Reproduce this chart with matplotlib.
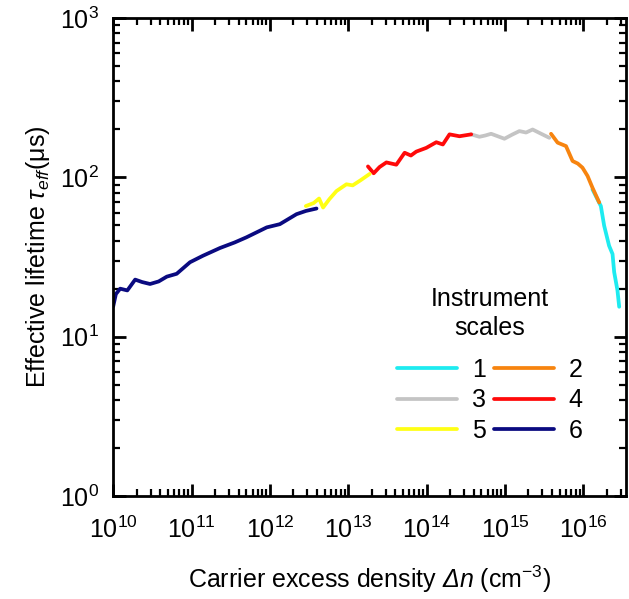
import numpy as np
import matplotlib.pyplot as plt
from matplotlib.ticker import LogLocator, NullFormatter

plt.rcParams['font.family'] = ['Liberation Sans', 'DejaVu Sans']
plt.rcParams['mathtext.fontset'] = 'custom'
plt.rcParams['mathtext.rm'] = 'Liberation Sans'
plt.rcParams['mathtext.it'] = 'Liberation Sans:italic'
plt.rcParams['mathtext.sf'] = 'Liberation Sans:italic'
plt.rcParams['mathtext.default'] = 'regular'

# Dados (log10 de Δn, tau em µs)
log_n6 = [10.0, 10.034, 10.089, 10.18, 10.28, 10.37, 10.47, 10.58, 10.684, 10.81, 10.98,
          11.146, 11.363, 11.55, 11.70, 11.96, 12.127, 12.34, 12.46, 12.595]
tau6 = [15.5, 18.5, 20.0, 19.5, 22.8, 22.0, 21.4, 22.2, 23.8, 24.8, 29.3,
        32.2, 36.0, 39.0, 42.0, 48.5, 50.8, 58.7, 61.5, 63.7]

log_n5 = [12.459, 12.56, 12.628, 12.679, 12.76, 12.85, 12.977, 13.057, 13.16, 13.274]
tau5 = [66.0, 69.0, 73.6, 64.6, 73.0, 82.0, 90.4, 89.0, 96.0, 105.0]

log_n4 = [13.252, 13.325, 13.40, 13.487, 13.614, 13.72, 13.80, 13.869, 13.996, 14.124,
          14.208, 14.293, 14.42, 14.57]
tau4 = [117.0, 106.0, 116.0, 124.0, 120.0, 142.6, 137.0, 145.0, 153.0, 166.0,
        160.7, 186.0, 181.0, 186.0]

log_n3 = [14.57, 14.675, 14.75, 14.824, 14.994, 15.09, 15.185, 15.27, 15.354, 15.44, 15.567]
tau3 = [186.0, 179.6, 183.0, 187.6, 174.6, 185.0, 195.0, 191.0, 199.5, 190.0, 177.0]

log_n2 = [15.589, 15.673, 15.78, 15.864, 15.93, 15.99, 16.055, 16.118, 16.204]
tau2 = [187.5, 165.0, 157.0, 126.5, 122.0, 115.0, 102.0, 86.0, 69.5]

log_n1 = [16.118, 16.225, 16.267, 16.33, 16.374, 16.395, 16.437, 16.459]
tau1 = [84.0, 66.0, 49.7, 37.2, 33.0, 25.4, 19.5, 15.4]

series = [
    ('1', log_n1, tau1, '#1EEBF0'),
    ('2', log_n2, tau2, '#F7840F'),
    ('3', log_n3, tau3, '#C4C4C4'),
    ('4', log_n4, tau4, '#FF0A0A'),
    ('5', log_n5, tau5, '#FFFF14'),
    ('6', log_n6, tau6, '#0A0A80'),
]

fig = plt.figure(figsize=(6.29, 5.99), dpi=100)
ax = fig.add_axes([0.180, 0.172, 0.815, 0.798])

linhas = {}
for nome, lx, ty, cor in series:
    l, = ax.plot(10 ** np.array(lx), ty, color=cor, lw=2.7, label=nome,
                 solid_capstyle='round')
    linhas[nome] = l

ax.set_xscale('log')
ax.set_yscale('log')
ax.set_xlim(1e10, 3.5e16)
ax.set_ylim(1, 1000)

ax.xaxis.set_major_locator(LogLocator(base=10, numticks=20))
ax.xaxis.set_minor_locator(LogLocator(base=10, subs=np.arange(2, 10), numticks=100))
ax.xaxis.set_minor_formatter(NullFormatter())
ax.yaxis.set_minor_formatter(NullFormatter())

ax.tick_params(which='both', direction='in', top=True, right=True, labelsize=18)
ax.tick_params(axis='x', which='major', pad=15)
ax.tick_params(axis='y', which='major', pad=10)
ax.tick_params(which='major', length=9, width=2)
ax.tick_params(which='minor', length=5, width=1.6)
for s in ax.spines.values():
    s.set_linewidth(2)

ax.set_xlabel(r'Carrier excess density $\mathsf{\Delta n}$ (cm$^{-3}$)', fontsize=18, labelpad=15)
ax.set_ylabel(r'Effective lifetime $\mathit{\tau}_{\mathit{eff}}$($\mu$s)', fontsize=18, labelpad=6)

# Legenda em duas colunas (1 2 / 3 4 / 5 6), título à parte
ordem = ['1', '3', '5', '2', '4', '6']
ax.legend([linhas[k] for k in ordem], ordem, ncol=2,
          loc='center', bbox_to_anchor=(0.735, 0.2), frameon=False, fontsize=18,
          handlelength=2.4, handletextpad=0.6, columnspacing=0.3, labelspacing=0.25)
ax.text(0.735, 0.381, 'Instrument\nscales', transform=ax.transAxes, fontsize=18,
        ha='center', va='center', multialignment='center', linespacing=1.25)

plt.savefig('out.png', dpi=100)
